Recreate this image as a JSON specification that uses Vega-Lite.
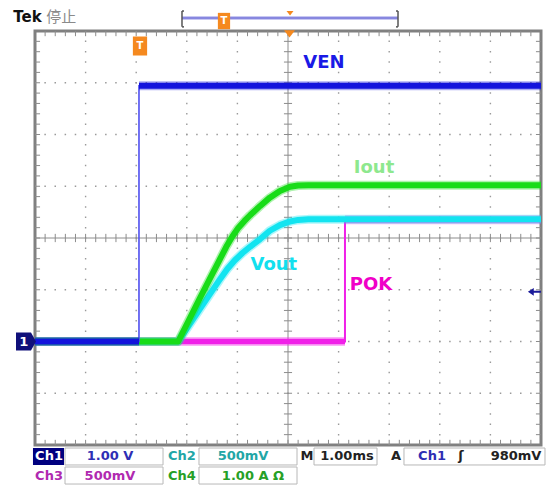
{
  "$schema": "https://vega.github.io/schema/vega-lite/v6.json",
  "width": 506,
  "height": 414,
  "autosize": {"type": "none"},
  "padding": {"left": 35, "top": 31, "right": 8, "bottom": 40},
  "background": "white",
  "config": {"view": {"stroke": "#808080", "strokeWidth": 3}},
  "datasets": {
    "tr": [
      {"ch": "VEN", "seg": "lo", "t": -5, "v": -2},
      {"ch": "VEN", "seg": "lo", "t": -2.945, "v": -2},
      {"ch": "VEN", "seg": "hi", "t": -2.945, "v": 2.94},
      {"ch": "VEN", "seg": "hi", "t": 5, "v": 2.94},
      {"ch": "Iout", "seg": "a", "t": -5, "v": -2},
      {"ch": "Iout", "seg": "a", "t": -2.17, "v": -2},
      {"ch": "Iout", "seg": "a", "t": -1.74, "v": -1.16},
      {"ch": "Iout", "seg": "a", "t": -1.34, "v": -0.4},
      {"ch": "Iout", "seg": "a", "t": -1.22, "v": -0.17},
      {"ch": "Iout", "seg": "a", "t": -1.1, "v": 0.03},
      {"ch": "Iout", "seg": "a", "t": -0.98, "v": 0.2},
      {"ch": "Iout", "seg": "a", "t": -0.86, "v": 0.33},
      {"ch": "Iout", "seg": "a", "t": -0.75, "v": 0.44},
      {"ch": "Iout", "seg": "a", "t": -0.55, "v": 0.62},
      {"ch": "Iout", "seg": "a", "t": -0.36, "v": 0.78},
      {"ch": "Iout", "seg": "a", "t": -0.16, "v": 0.91},
      {"ch": "Iout", "seg": "a", "t": 0.04, "v": 0.99},
      {"ch": "Iout", "seg": "a", "t": 0.2, "v": 1.015},
      {"ch": "Iout", "seg": "a", "t": 0.4, "v": 1.02},
      {"ch": "Iout", "seg": "a", "t": 5, "v": 1.02},
      {"ch": "Vout", "seg": "a", "t": -5, "v": -2},
      {"ch": "Vout", "seg": "a", "t": -2.17, "v": -2},
      {"ch": "Vout", "seg": "a", "t": -1.74, "v": -1.37},
      {"ch": "Vout", "seg": "a", "t": -1.34, "v": -0.79},
      {"ch": "Vout", "seg": "a", "t": -1.2, "v": -0.6},
      {"ch": "Vout", "seg": "a", "t": -1.05, "v": -0.43},
      {"ch": "Vout", "seg": "a", "t": -0.9, "v": -0.29},
      {"ch": "Vout", "seg": "a", "t": -0.75, "v": -0.17},
      {"ch": "Vout", "seg": "a", "t": -0.55, "v": -0.02},
      {"ch": "Vout", "seg": "a", "t": -0.36, "v": 0.14},
      {"ch": "Vout", "seg": "a", "t": -0.16, "v": 0.25},
      {"ch": "Vout", "seg": "a", "t": 0.04, "v": 0.32},
      {"ch": "Vout", "seg": "a", "t": 0.2, "v": 0.35},
      {"ch": "Vout", "seg": "a", "t": 0.4, "v": 0.36},
      {"ch": "Vout", "seg": "a", "t": 5, "v": 0.36},
      {"ch": "POK", "seg": "lo", "t": -5, "v": -2},
      {"ch": "POK", "seg": "lo", "t": 1.126, "v": -2},
      {"ch": "POK", "seg": "hi", "t": 1.126, "v": 0.355},
      {"ch": "POK", "seg": "hi", "t": 5, "v": 0.355}
    ],
    "xg": [{"t": -4}, {"t": -3}, {"t": -2}, {"t": -1}, {"t": 1}, {"t": 2}, {"t": 3}, {"t": 4}],
    "yg": [{"v": -3}, {"v": -2}, {"v": -1}, {"v": 1}, {"v": 2}, {"v": 3}],
    "xt": [{"t": -4.8}, {"t": -4.6}, {"t": -4.4}, {"t": -4.2}, {"t": -4}, {"t": -3.8}, {"t": -3.6}, {"t": -3.4}, {"t": -3.2}, {"t": -3}, {"t": -2.8}, {"t": -2.6}, {"t": -2.4}, {"t": -2.2}, {"t": -2}, {"t": -1.8}, {"t": -1.6}, {"t": -1.4}, {"t": -1.2}, {"t": -1}, {"t": -0.8}, {"t": -0.6}, {"t": -0.4}, {"t": -0.2}, {"t": 0}, {"t": 0.2}, {"t": 0.4}, {"t": 0.6}, {"t": 0.8}, {"t": 1}, {"t": 1.2}, {"t": 1.4}, {"t": 1.6}, {"t": 1.8}, {"t": 2}, {"t": 2.2}, {"t": 2.4}, {"t": 2.6}, {"t": 2.8}, {"t": 3}, {"t": 3.2}, {"t": 3.4}, {"t": 3.6}, {"t": 3.8}, {"t": 4}, {"t": 4.2}, {"t": 4.4}, {"t": 4.6}, {"t": 4.8}],
    "yt": [{"v": -3.8}, {"v": -3.6}, {"v": -3.4}, {"v": -3.2}, {"v": -3}, {"v": -2.8}, {"v": -2.6}, {"v": -2.4}, {"v": -2.2}, {"v": -2}, {"v": -1.8}, {"v": -1.6}, {"v": -1.4}, {"v": -1.2}, {"v": -1}, {"v": -0.8}, {"v": -0.6}, {"v": -0.4}, {"v": -0.2}, {"v": 0}, {"v": 0.2}, {"v": 0.4}, {"v": 0.6}, {"v": 0.8}, {"v": 1}, {"v": 1.2}, {"v": 1.4}, {"v": 1.6}, {"v": 1.8}, {"v": 2}, {"v": 2.2}, {"v": 2.4}, {"v": 2.6}, {"v": 2.8}, {"v": 3}, {"v": 3.2}, {"v": 3.4}, {"v": 3.6}, {"v": 3.8}],
    "lab": [
      {"c": "ven", "txt": "VEN", "t": 0.71, "v": 3.38},
      {"c": "iout", "txt": "Iout", "t": 1.7, "v": 1.35},
      {"c": "vout", "txt": "Vout", "t": -0.28, "v": -0.52},
      {"c": "pok", "txt": "POK", "t": 1.64, "v": -0.91}
    ],
    "stat": [
      {"c": "w", "txt": "Ch1", "t": -4.723, "v": -4.213},
      {"c": "c1", "txt": "1.00 V", "t": -3.518, "v": -4.213},
      {"c": "c2", "txt": "Ch2", "t": -2.095, "v": -4.213},
      {"c": "c2", "txt": "500mV", "t": -0.889, "v": -4.213},
      {"c": "k", "txt": "M", "t": 0.375, "v": -4.213},
      {"c": "k", "txt": "1.00ms", "t": 1.166, "v": -4.213},
      {"c": "k", "txt": "A", "t": 2.134, "v": -4.213},
      {"c": "c1", "txt": "Ch1", "t": 2.846, "v": -4.213},
      {"c": "k", "txt": "ʃ", "t": 3.419, "v": -4.213},
      {"c": "k", "txt": "980mV", "t": 4.506, "v": -4.213},
      {"c": "c3", "txt": "Ch3", "t": -4.723, "v": -4.599},
      {"c": "c3", "txt": "500mV", "t": -3.518, "v": -4.599},
      {"c": "c4", "txt": "Ch4", "t": -2.095, "v": -4.599},
      {"c": "c4", "txt": "1.00 A Ω", "t": -0.692, "v": -4.599}
    ],
    "box": [
      {"k": "sel", "t": -5.04, "t2": -4.427, "v": -4.058, "v2": -4.386},
      {"k": "val", "t": -4.407, "t2": -2.47, "v": -4.058, "v2": -4.386},
      {"k": "val", "t": -1.759, "t2": 0.178, "v": -4.058, "v2": -4.386},
      {"k": "val", "t": 0.514, "t2": 1.759, "v": -4.058, "v2": -4.386},
      {"k": "val", "t": 2.292, "t2": 5.079, "v": -4.058, "v2": -4.386},
      {"k": "val", "t": -4.407, "t2": -2.47, "v": -4.425, "v2": -4.754},
      {"k": "val", "t": -1.759, "t2": 0.178, "v": -4.425, "v2": -4.754}
    ]
  },
  "layer": [
    {
      "data": {"name": "xg"},
      "mark": {"type": "rule", "color": "#9a9a9a", "strokeWidth": 1.4, "strokeDash": [1.5, 8.85], "strokeDashOffset": 0.75},
      "encoding": {"x": {"field": "t", "type": "quantitative", "scale": {"domain": [-5, 5], "nice": false, "zero": false}, "axis": null}}
    },
    {
      "data": {"name": "yg"},
      "mark": {"type": "rule", "color": "#9a9a9a", "strokeWidth": 1.4, "strokeDash": [1.5, 8.62], "strokeDashOffset": 0.75},
      "encoding": {"y": {"field": "v", "type": "quantitative", "scale": {"domain": [-4, 4], "nice": false, "zero": false}, "axis": null}}
    },
    {
      "data": {"values": [{}]},
      "mark": {"type": "rule", "color": "#8c8c8c", "strokeWidth": 1},
      "encoding": {"x": {"datum": 0, "type": "quantitative", "scale": {"domain": [-5, 5], "nice": false, "zero": false}, "axis": null}}
    },
    {
      "data": {"values": [{}]},
      "mark": {"type": "rule", "color": "#8c8c8c", "strokeWidth": 1},
      "encoding": {"y": {"datum": 0, "type": "quantitative", "scale": {"domain": [-4, 4], "nice": false, "zero": false}, "axis": null}}
    },
    {
      "data": {"name": "xt"},
      "mark": {"type": "rule", "color": "#8c8c8c", "strokeWidth": 1},
      "encoding": {
        "x": {"field": "t", "type": "quantitative", "scale": {"domain": [-5, 5], "nice": false, "zero": false}, "axis": null},
        "y": {"datum": -0.08, "type": "quantitative", "scale": {"domain": [-4, 4], "nice": false, "zero": false}, "axis": null},
        "y2": {"datum": 0.08}
      }
    },
    {
      "data": {"name": "xt"},
      "mark": {"type": "rule", "color": "#8c8c8c", "strokeWidth": 1},
      "encoding": {
        "x": {"field": "t", "type": "quantitative", "scale": {"domain": [-5, 5], "nice": false, "zero": false}, "axis": null},
        "y": {"datum": -4, "type": "quantitative", "scale": {"domain": [-4, 4], "nice": false, "zero": false}, "axis": null},
        "y2": {"datum": -3.9}
      }
    },
    {
      "data": {"name": "xt"},
      "mark": {"type": "rule", "color": "#8c8c8c", "strokeWidth": 1},
      "encoding": {
        "x": {"field": "t", "type": "quantitative", "scale": {"domain": [-5, 5], "nice": false, "zero": false}, "axis": null},
        "y": {"datum": 4, "type": "quantitative", "scale": {"domain": [-4, 4], "nice": false, "zero": false}, "axis": null},
        "y2": {"datum": 3.9}
      }
    },
    {
      "data": {"name": "yt"},
      "mark": {"type": "rule", "color": "#8c8c8c", "strokeWidth": 1},
      "encoding": {
        "y": {"field": "v", "type": "quantitative", "scale": {"domain": [-4, 4], "nice": false, "zero": false}, "axis": null},
        "x": {"datum": -0.08, "type": "quantitative", "scale": {"domain": [-5, 5], "nice": false, "zero": false}, "axis": null},
        "x2": {"datum": 0.08}
      }
    },
    {
      "data": {"name": "yt"},
      "mark": {"type": "rule", "color": "#8c8c8c", "strokeWidth": 1},
      "encoding": {
        "y": {"field": "v", "type": "quantitative", "scale": {"domain": [-4, 4], "nice": false, "zero": false}, "axis": null},
        "x": {"datum": -5, "type": "quantitative", "scale": {"domain": [-5, 5], "nice": false, "zero": false}, "axis": null},
        "x2": {"datum": -4.9}
      }
    },
    {
      "data": {"name": "yt"},
      "mark": {"type": "rule", "color": "#8c8c8c", "strokeWidth": 1},
      "encoding": {
        "y": {"field": "v", "type": "quantitative", "scale": {"domain": [-4, 4], "nice": false, "zero": false}, "axis": null},
        "x": {"datum": 5, "type": "quantitative", "scale": {"domain": [-5, 5], "nice": false, "zero": false}, "axis": null},
        "x2": {"datum": 4.9}
      }
    },
    {
      "data": {"name": "tr"},
      "transform": [{"filter": "datum.ch === 'POK'"}],
      "mark": {"type": "line", "color": "#f020e8", "strokeWidth": 2},
      "encoding": {
        "x": {"field": "t", "type": "quantitative", "scale": {"domain": [-5, 5], "nice": false, "zero": false}, "axis": null},
        "y": {"field": "v", "type": "quantitative", "scale": {"domain": [-4, 4], "nice": false, "zero": false}, "axis": null},
        "order": {"value": null}
      }
    },
    {
      "data": {"name": "tr"},
      "transform": [{"filter": "datum.ch === 'POK'"}],
      "mark": {"type": "line", "color": "#f020e8", "strokeWidth": 9, "opacity": 0.35, "strokeCap": "butt"},
      "encoding": {
        "x": {"field": "t", "type": "quantitative", "scale": {"domain": [-5, 5], "nice": false, "zero": false}, "axis": null},
        "y": {"field": "v", "type": "quantitative", "scale": {"domain": [-4, 4], "nice": false, "zero": false}, "axis": null},
        "detail": {"field": "seg"},
        "order": {"value": null}
      }
    },
    {
      "data": {"name": "tr"},
      "transform": [{"filter": "datum.ch === 'POK'"}],
      "mark": {"type": "line", "color": "#f020e8", "strokeWidth": 5.5, "strokeCap": "butt"},
      "encoding": {
        "x": {"field": "t", "type": "quantitative", "scale": {"domain": [-5, 5], "nice": false, "zero": false}, "axis": null},
        "y": {"field": "v", "type": "quantitative", "scale": {"domain": [-4, 4], "nice": false, "zero": false}, "axis": null},
        "detail": {"field": "seg"},
        "order": {"value": null}
      }
    },
    {
      "data": {"name": "tr"},
      "transform": [{"filter": "datum.ch === 'Vout'"}],
      "mark": {"type": "line", "color": "#12e4f0", "strokeWidth": 9, "opacity": 0.35, "strokeCap": "butt", "strokeJoin": "round"},
      "encoding": {
        "x": {"field": "t", "type": "quantitative", "scale": {"domain": [-5, 5], "nice": false, "zero": false}, "axis": null},
        "y": {"field": "v", "type": "quantitative", "scale": {"domain": [-4, 4], "nice": false, "zero": false}, "axis": null},
        "order": {"value": null}
      }
    },
    {
      "data": {"name": "tr"},
      "transform": [{"filter": "datum.ch === 'Vout'"}],
      "mark": {"type": "line", "color": "#12e4f0", "strokeWidth": 6, "strokeCap": "butt", "strokeJoin": "round"},
      "encoding": {
        "x": {"field": "t", "type": "quantitative", "scale": {"domain": [-5, 5], "nice": false, "zero": false}, "axis": null},
        "y": {"field": "v", "type": "quantitative", "scale": {"domain": [-4, 4], "nice": false, "zero": false}, "axis": null},
        "order": {"value": null}
      }
    },
    {
      "data": {"name": "tr"},
      "transform": [{"filter": "datum.ch === 'Iout'"}],
      "mark": {"type": "line", "color": "#18dc18", "strokeWidth": 9, "opacity": 0.35, "strokeCap": "butt", "strokeJoin": "round"},
      "encoding": {
        "x": {"field": "t", "type": "quantitative", "scale": {"domain": [-5, 5], "nice": false, "zero": false}, "axis": null},
        "y": {"field": "v", "type": "quantitative", "scale": {"domain": [-4, 4], "nice": false, "zero": false}, "axis": null},
        "order": {"value": null}
      }
    },
    {
      "data": {"name": "tr"},
      "transform": [{"filter": "datum.ch === 'Iout'"}],
      "mark": {"type": "line", "color": "#18dc18", "strokeWidth": 6, "strokeCap": "butt", "strokeJoin": "round"},
      "encoding": {
        "x": {"field": "t", "type": "quantitative", "scale": {"domain": [-5, 5], "nice": false, "zero": false}, "axis": null},
        "y": {"field": "v", "type": "quantitative", "scale": {"domain": [-4, 4], "nice": false, "zero": false}, "axis": null},
        "order": {"value": null}
      }
    },
    {
      "data": {"name": "tr"},
      "transform": [{"filter": "datum.ch === 'VEN'"}],
      "mark": {"type": "line", "color": "#5050f0", "strokeWidth": 1.6},
      "encoding": {
        "x": {"field": "t", "type": "quantitative", "scale": {"domain": [-5, 5], "nice": false, "zero": false}, "axis": null},
        "y": {"field": "v", "type": "quantitative", "scale": {"domain": [-4, 4], "nice": false, "zero": false}, "axis": null},
        "order": {"value": null}
      }
    },
    {
      "data": {"name": "tr"},
      "transform": [{"filter": "datum.ch === 'VEN'"}],
      "mark": {"type": "line", "color": "#1414dc", "strokeWidth": 9, "opacity": 0.35, "strokeCap": "butt"},
      "encoding": {
        "x": {"field": "t", "type": "quantitative", "scale": {"domain": [-5, 5], "nice": false, "zero": false}, "axis": null},
        "y": {"field": "v", "type": "quantitative", "scale": {"domain": [-4, 4], "nice": false, "zero": false}, "axis": null},
        "detail": {"field": "seg"},
        "order": {"value": null}
      }
    },
    {
      "data": {"name": "tr"},
      "transform": [{"filter": "datum.ch === 'VEN'"}],
      "mark": {"type": "line", "color": "#1414dc", "strokeWidth": 6, "strokeCap": "butt"},
      "encoding": {
        "x": {"field": "t", "type": "quantitative", "scale": {"domain": [-5, 5], "nice": false, "zero": false}, "axis": null},
        "y": {"field": "v", "type": "quantitative", "scale": {"domain": [-4, 4], "nice": false, "zero": false}, "axis": null},
        "detail": {"field": "seg"},
        "order": {"value": null}
      }
    },
    {
      "data": {"name": "lab"},
      "mark": {"type": "text", "font": "DejaVu Sans", "fontSize": 18, "fontWeight": "bold", "baseline": "middle", "align": "center"},
      "encoding": {
        "x": {"field": "t", "type": "quantitative", "scale": {"domain": [-5, 5], "nice": false, "zero": false}, "axis": null},
        "y": {"field": "v", "type": "quantitative", "scale": {"domain": [-4, 4], "nice": false, "zero": false}, "axis": null},
        "text": {"field": "txt"},
        "color": {"field": "c", "type": "nominal", "legend": null, "scale": {"domain": ["ven", "iout", "vout", "pok", "c1", "c2", "c3", "c4", "k", "w", "g"], "range": ["#1a1ae6", "#8ee88e", "#12e0ee", "#f000c8", "#2e2eb4", "#22a6a6", "#b02ab0", "#26a026", "#222222", "#ffffff", "#8a8a8a"]}}
      }
    },
    {
      "data": {"name": "box"},
      "transform": [{"filter": "datum.k === 'val'"}],
      "mark": {"type": "rect", "fill": "#ffffff", "stroke": "#b8b8b8", "strokeWidth": 1},
      "encoding": {
        "x": {"field": "t", "type": "quantitative", "scale": {"domain": [-5, 5], "nice": false, "zero": false}, "axis": null},
        "x2": {"field": "t2"},
        "y": {"field": "v", "type": "quantitative", "scale": {"domain": [-4, 4], "nice": false, "zero": false}, "axis": null},
        "y2": {"field": "v2"}
      }
    },
    {
      "data": {"name": "box"},
      "transform": [{"filter": "datum.k === 'sel'"}],
      "mark": {"type": "rect", "fill": "#00007f"},
      "encoding": {
        "x": {"field": "t", "type": "quantitative", "scale": {"domain": [-5, 5], "nice": false, "zero": false}, "axis": null},
        "x2": {"field": "t2"},
        "y": {"field": "v", "type": "quantitative", "scale": {"domain": [-4, 4], "nice": false, "zero": false}, "axis": null},
        "y2": {"field": "v2"}
      }
    },
    {
      "data": {"name": "stat"},
      "mark": {"type": "text", "font": "DejaVu Sans", "fontSize": 13, "fontWeight": "bold", "baseline": "middle", "align": "center"},
      "encoding": {
        "x": {"field": "t", "type": "quantitative", "scale": {"domain": [-5, 5], "nice": false, "zero": false}, "axis": null},
        "y": {"field": "v", "type": "quantitative", "scale": {"domain": [-4, 4], "nice": false, "zero": false}, "axis": null},
        "text": {"field": "txt"},
        "color": {"field": "c", "type": "nominal", "legend": null, "scale": {"domain": ["ven", "iout", "vout", "pok", "c1", "c2", "c3", "c4", "k", "w", "g"], "range": ["#1a1ae6", "#8ee88e", "#12e0ee", "#f000c8", "#2e2eb4", "#22a6a6", "#b02ab0", "#26a026", "#222222", "#ffffff", "#8a8a8a"]}}
      }
    },
    {
      "data": {"values": [{}]},
      "mark": {"type": "text", "text": "Tek", "font": "DejaVu Sans", "fontSize": 15, "fontWeight": "bold", "baseline": "middle", "align": "left", "color": "#111111", "letterSpacing": -1},
      "encoding": {
        "x": {"datum": -5.43, "type": "quantitative", "scale": {"domain": [-5, 5], "nice": false, "zero": false}, "axis": null},
        "y": {"datum": 4.27, "type": "quantitative", "scale": {"domain": [-4, 4], "nice": false, "zero": false}, "axis": null}
      }
    },
    {
      "data": {"values": [{}]},
      "mark": {"type": "text", "text": "停止", "font": "Noto Sans CJK SC", "fontSize": 15, "baseline": "middle", "align": "left", "color": "#8a8a8a"},
      "encoding": {
        "x": {"datum": -4.78, "type": "quantitative", "scale": {"domain": [-5, 5], "nice": false, "zero": false}, "axis": null},
        "y": {"datum": 4.27, "type": "quantitative", "scale": {"domain": [-4, 4], "nice": false, "zero": false}, "axis": null}
      }
    },
    {
      "data": {"values": [{}]},
      "mark": {"type": "rule", "color": "#c8c8f2", "strokeWidth": 4},
      "encoding": {
        "x": {"datum": -2.095, "type": "quantitative", "scale": {"domain": [-5, 5], "nice": false, "zero": false}, "axis": null},
        "x2": {"datum": 2.174},
        "y": {"datum": 4.251, "type": "quantitative", "scale": {"domain": [-4, 4], "nice": false, "zero": false}, "axis": null}
      }
    },
    {
      "data": {"values": [{}]},
      "mark": {"type": "rule", "color": "#4646cc", "strokeWidth": 1.2},
      "encoding": {
        "x": {"datum": -2.095, "type": "quantitative", "scale": {"domain": [-5, 5], "nice": false, "zero": false}, "axis": null},
        "x2": {"datum": 2.174},
        "y": {"datum": 4.251, "type": "quantitative", "scale": {"domain": [-4, 4], "nice": false, "zero": false}, "axis": null}
      }
    },
    {
      "data": {"values": [{"t": -2.095}, {"t": 2.174}]},
      "mark": {"type": "rule", "color": "#555555", "strokeWidth": 1.5},
      "encoding": {
        "x": {"field": "t", "type": "quantitative", "scale": {"domain": [-5, 5], "nice": false, "zero": false}, "axis": null},
        "y": {"datum": 4.386, "type": "quantitative", "scale": {"domain": [-4, 4], "nice": false, "zero": false}, "axis": null},
        "y2": {"datum": 4.08}
      }
    },
    {
      "data": {"values": [{"t": -2.095, "t2": -2.055, "v": 4.386}, {"t": -2.095, "t2": -2.055, "v": 4.08}, {"t": 2.134, "t2": 2.174, "v": 4.386}, {"t": 2.134, "t2": 2.174, "v": 4.08}]},
      "mark": {"type": "rule", "color": "#555555", "strokeWidth": 1.5},
      "encoding": {
        "x": {"field": "t", "type": "quantitative", "scale": {"domain": [-5, 5], "nice": false, "zero": false}, "axis": null},
        "x2": {"field": "t2"},
        "y": {"field": "v", "type": "quantitative", "scale": {"domain": [-4, 4], "nice": false, "zero": false}, "axis": null}
      }
    },
    {
      "data": {"values": [{}]},
      "mark": {"type": "point", "shape": "M-1,-0.6L1,-0.6L0,0.7Z", "filled": true, "opacity": 1, "size": 121, "color": "#f5891f"},
      "encoding": {
        "x": {"datum": 0.03, "type": "quantitative", "scale": {"domain": [-5, 5], "nice": false, "zero": false}, "axis": null},
        "y": {"datum": 3.95, "type": "quantitative", "scale": {"domain": [-4, 4], "nice": false, "zero": false}, "axis": null}
      }
    },
    {
      "data": {"values": [{}]},
      "mark": {"type": "point", "shape": "M-1,-0.6L1,-0.6L0,0.7Z", "filled": true, "opacity": 1, "size": 49, "color": "#f5891f"},
      "encoding": {
        "x": {"datum": 0.04, "type": "quantitative", "scale": {"domain": [-5, 5], "nice": false, "zero": false}, "axis": null},
        "y": {"datum": 4.348, "type": "quantitative", "scale": {"domain": [-4, 4], "nice": false, "zero": false}, "axis": null}
      }
    },
    {
      "data": {"values": [{"t": -1.265, "v": 4.193, "s": 144}, {"t": -2.925, "v": 3.71, "s": 196}]},
      "mark": {"type": "point", "shape": "M-0.75,-1L0.75,-1L0.75,1L-0.75,1Z", "filled": true, "opacity": 1, "color": "#f5891f"},
      "encoding": {
        "x": {"field": "t", "type": "quantitative", "scale": {"domain": [-5, 5], "nice": false, "zero": false}, "axis": null},
        "y": {"field": "v", "type": "quantitative", "scale": {"domain": [-4, 4], "nice": false, "zero": false}, "axis": null},
        "size": {"field": "s", "type": "quantitative", "scale": {"type": "identity"}, "legend": null}
      }
    },
    {
      "data": {"values": [{"t": -1.265, "v": 4.193}, {"t": -2.925, "v": 3.71}]},
      "mark": {"type": "text", "text": "T", "font": "DejaVu Sans", "fontSize": 10, "fontWeight": "bold", "baseline": "middle", "align": "center", "color": "#ffffff"},
      "encoding": {
        "x": {"field": "t", "type": "quantitative", "scale": {"domain": [-5, 5], "nice": false, "zero": false}, "axis": null},
        "y": {"field": "v", "type": "quantitative", "scale": {"domain": [-4, 4], "nice": false, "zero": false}, "axis": null}
      }
    },
    {
      "data": {"values": [{}]},
      "mark": {"type": "point", "shape": "M-1,-0.9L0.5,-0.9L1,0L0.5,0.9L-1,0.9Z", "filled": true, "opacity": 1, "size": 400, "color": "#10107a"},
      "encoding": {
        "x": {"datum": -5.178, "type": "quantitative", "scale": {"domain": [-5, 5], "nice": false, "zero": false}, "axis": null},
        "y": {"datum": -2.0, "type": "quantitative", "scale": {"domain": [-4, 4], "nice": false, "zero": false}, "axis": null}
      }
    },
    {
      "data": {"values": [{}]},
      "mark": {"type": "text", "text": "1", "font": "DejaVu Sans", "fontSize": 13, "fontWeight": "bold", "baseline": "middle", "align": "center", "color": "#ffffff"},
      "encoding": {
        "x": {"datum": -5.22, "type": "quantitative", "scale": {"domain": [-5, 5], "nice": false, "zero": false}, "axis": null},
        "y": {"datum": -2.0, "type": "quantitative", "scale": {"domain": [-4, 4], "nice": false, "zero": false}, "axis": null}
      }
    },
    {
      "data": {"values": [{}]},
      "mark": {"type": "point", "shape": "M-1,0L-0.1,-0.6L-0.1,-0.15L1,-0.15L1,0.15L-0.1,0.15L-0.1,0.6Z", "filled": true, "opacity": 1, "size": 169, "color": "#1a1a9a"},
      "encoding": {
        "x": {"datum": 4.87, "type": "quantitative", "scale": {"domain": [-5, 5], "nice": false, "zero": false}, "axis": null},
        "y": {"datum": -1.04, "type": "quantitative", "scale": {"domain": [-4, 4], "nice": false, "zero": false}, "axis": null}
      }
    }
  ]
}
